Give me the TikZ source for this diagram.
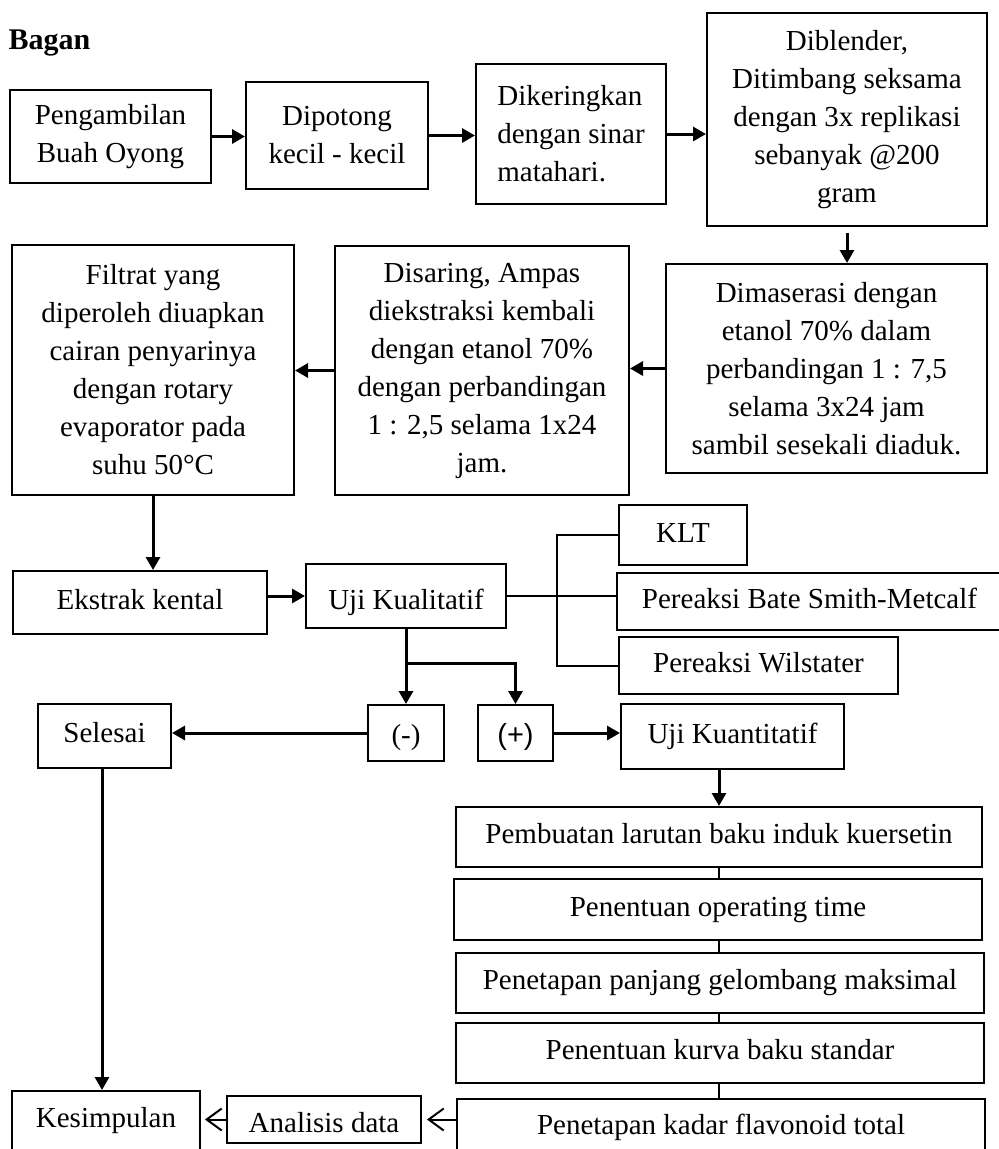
\documentclass[tikz,border=0pt]{standalone}
\usepackage{fontspec}
\setmainfont{Liberation Serif}
\newfontfamily\plusfont{Liberation Sans}
\usetikzlibrary{arrows.meta}

\begin{document}
\begin{tikzpicture}[x=1pt, y=-1pt, >={Triangle[length=13pt,width=14pt]},
  every node/.style={font=\fontsize{29}{38}\selectfont},
  box/.style={draw, line width=2pt, align=center, inner sep=0pt},
  single/.style={box, text height=20pt, text depth=7pt},
  wh/.style 2 args={minimum width=#1, minimum height=#2},
  arr/.style={->, line width=3pt},
  barb/.style={-{Straight Barb[length=15pt,width=22pt]}, line width=2pt},
  link/.style={line width=2pt},
  thinlink/.style={line width=1.2pt}]
  \useasboundingbox (0,0) rectangle (999,1149);
  \node[anchor=base west, font=\fontsize{30}{36}\selectfont\bfseries] (title) at (5,49) {Bagan};

  \node[box, wh={201}{93}] (ambil) at (110.5,136.5) {Pengambilan\\Buah Oyong};
  \node[box, wh={182}{107}] (potong) at (337,135.5) {Dipotong\\kecil - kecil};
  \node[box, wh={190}{140}, align=left] (kering) at (571,134) {Dikeringkan\\dengan sinar\\matahari.};
  \node[box, wh={280}{213}] (blender) at (847,119.5) {Diblender,\\Ditimbang seksama\\dengan 3x replikasi\\sebanyak @200\\gram};
  \node[box, wh={321}{209}] (maserasi) at (826.5,368.5) {Dimaserasi dengan\\etanol 70\% dalam\\perbandingan 1 : 7,5\\selama 3x24 jam\\sambil sesekali diaduk.};
  \node[box, wh={294}{249}] (saring) at (482,370.5) {Disaring, Ampas\\diekstraksi kembali\\dengan etanol 70\%\\dengan perbandingan\\1 : 2,5 selama 1x24\\jam.};
  \node[box, wh={282}{250}] (filtrat) at (153,370) {Filtrat yang\\diperoleh diuapkan\\cairan penyarinya\\dengan rotary\\evaporator pada\\suhu 50°C};

  \node[single, wh={254}{63}] (ekstrak) at (140,602.5) {Ekstrak kental};
  \node[single, wh={200}{64}, text height=33pt] (kualitatif) at (406,596) {Uji Kualitatif};
  \node[single, wh={128}{60}, text height=22pt] (klt) at (683,535) {KLT};
  \node[single, wh={385}{57}] (bate) at (809.5,601.5) {Pereaksi Bate Smith-Metcalf};
  \node[single, wh={279}{57}] (wilstater) at (758.5,665.5) {Pereaksi Wilstater};

  \node[single, wh={76}{56}, text height=29pt] (negatif) at (406,733) {(-)};
  \node[single, wh={75}{56}, text height=29pt, font=\fontsize{29}{38}\plusfont] (positif) at (515.5,733) {(+)};
  \node[single, wh={133}{64}] (selesai) at (104.5,736) {Selesai};
  \node[single, wh={223}{65}] (kuantitatif) at (732.5,736.5) {Uji Kuantitatif};

  \node[single, wh={526}{60}] (baku) at (719,837) {Pembuatan larutan baku induk kuersetin};
  \node[single, wh={528}{61}] (optime) at (718,909.5) {Penentuan operating time};
  \node[single, wh={528}{60}] (panjang) at (720,983) {Penetapan panjang gelombang maksimal};
  \node[single, wh={528}{60}] (kurva) at (720,1053) {Penentuan kurva baku standar};
  \node[single, wh={528}{58}] (kadar) at (721,1128) {Penetapan kadar flavonoid total};
  \node[single, wh={194}{47}, text height=33pt] (analisis) at (324,1119.5) {Analisis data};
  \node[single, wh={188}{60}] (simpul) at (106,1121) {Kesimpulan};

  \coordinate (brace) at (557,535);
  \coordinate (split) at (406,663);

  \draw[arr] (ambil.east) -- (ambil.east -| potong.west);
  \draw[arr] (potong.east) -- (potong.east -| kering.west);
  \draw[arr] (kering.east) -- (kering.east -| blender.west);
  \draw[arr, shorten <=6pt] (blender.south) -- (blender.south |- maserasi.north);
  \draw[arr] (maserasi.west) -- (maserasi.west -| saring.east);
  \draw[arr] (saring.west) -- (saring.west -| filtrat.east);
  \draw[arr] (filtrat.south) -- (filtrat.south |- ekstrak.north);
  \draw[arr] (ekstrak.east |- kualitatif.west) -- (kualitatif.west);
  \draw[link] (kualitatif.east) -- (kualitatif.east -| bate.west);
  \draw[link] (klt.west) -- (brace) |- (wilstater.west);
  \draw[arr] (kualitatif.south) -- (negatif.north);
  \draw[arr] (split) -| (positif.north);
  \draw[arr] (negatif.west) -- (negatif.west -| selesai.east);
  \draw[arr] (positif.east) -- (positif.east -| kuantitatif.west);
  \draw[arr] (baku.north |- kuantitatif.south) -- (baku.north);
  \draw[thinlink] (baku.south) -- (baku.south |- optime.north);
  \draw[thinlink] (baku.south |- optime.south) -- (baku.south |- panjang.north);
  \draw[thinlink] (baku.south |- panjang.south) -- (baku.south |- kurva.north);
  \draw[thinlink] (baku.south |- kurva.south) -- (baku.south |- kadar.north);
  \draw[barb, shorten >=5pt] (kadar.west |- analisis.east) -- (analisis.east);
  \draw[barb, shorten >=4pt] (analisis.west) -- (analisis.west -| simpul.east);
  \draw[arr] (selesai.south -| 102,0) -- (simpul.north -| 102,0);
\end{tikzpicture}
\end{document}
